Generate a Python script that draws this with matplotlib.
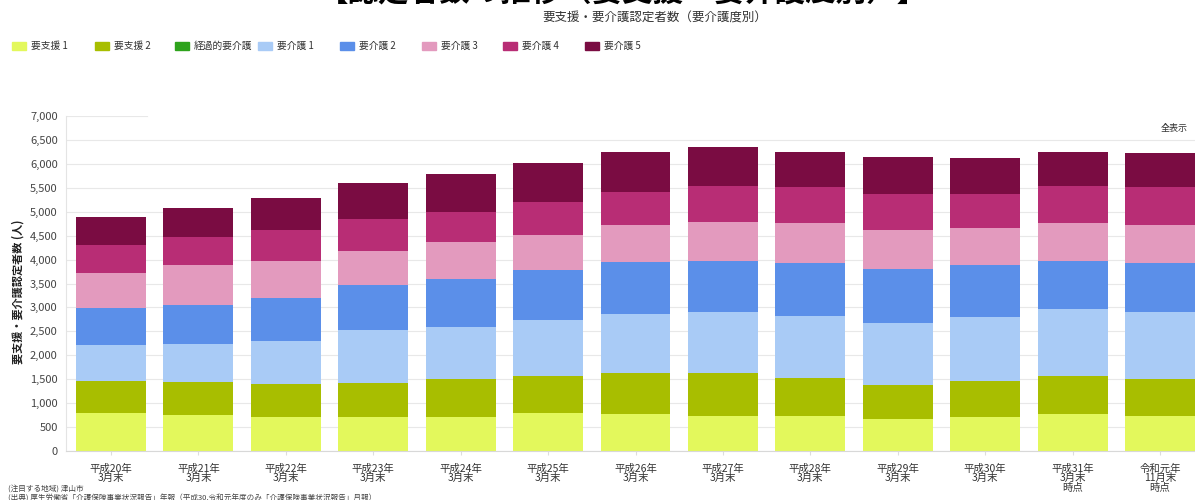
import numpy as np
import matplotlib.pyplot as plt

plt.rcParams['font.family'] = ['Noto Sans CJK JP', 'DejaVu Sans']

# 時点
labels = ["平成20年\n3月末", "平成21年\n3月末", "平成22年\n3月末", "平成23年\n3月末",
          "平成24年\n3月末", "平成25年\n3月末", "平成26年\n3月末", "平成27年\n3月末",
          "平成28年\n3月末", "平成29年\n3月末", "平成30年\n3月末", "平成31年\n3月末\n時点",
          "令和元年\n11月末\n時点"]

# 要介護度別の認定者数（人）
shien1 = [788, 746, 704, 718, 718, 788, 767, 739, 739, 662, 704, 767, 739]
shien2 = [683, 704, 697, 711, 781, 774, 858, 886, 794, 711, 766, 795, 760]
keika = [0, 0, 0, 0, 0, 0, 0, 0, 0, 0, 0, 0, 0]
kaigo1 = [747, 795, 906, 1108, 1094, 1171, 1233, 1281, 1290, 1303, 1325, 1407, 1401]
kaigo2 = [760, 809, 899, 934, 997, 1052, 1094, 1074, 1102, 1123, 1094, 1004, 1038]
kaigo3 = [732, 830, 767, 718, 780, 732, 780, 802, 836, 829, 774, 795, 788]
kaigo4 = [586, 593, 641, 656, 634, 683, 690, 765, 753, 746, 711, 779, 794]
kaigo5 = [585, 593, 676, 752, 794, 816, 836, 803, 724, 774, 746, 711, 697]

series = ["要支援 1", "要支援 2", "経過的要介護", "要介護 1", "要介護 2", "要介護 3", "要介護 4", "要介護 5"]
colors = ["#e3f85c", "#a8be00", "#2ea31c", "#a9cbf6", "#5b8fe9", "#e39abe", "#b82d75", "#7a0c42"]
data = [shien1, shien2, keika, kaigo1, kaigo2, kaigo3, kaigo4, kaigo5]

fig = plt.figure(figsize=(11.95, 5.0), dpi=100)
W, H = 1195, 500
ax = fig.add_axes([66 / W, 1 - 451 / H, (1195 - 66) / W, (451 - 116) / H])

x = np.arange(len(labels))
bottom = np.zeros(len(labels))
for name, vals, c in zip(series, data, colors):
    ax.bar(x, vals, width=0.8, bottom=bottom, color=c, linewidth=0, label=name)
    bottom += np.array(vals)

ax.set_xlim(-0.515, 12.4)
ax.set_ylim(0, 7000)
ax.set_yticks(np.arange(0, 7001, 500))
ax.set_yticklabels([f"{v:,}" for v in range(0, 7001, 500)], fontsize=8, color="#444444")
ax.set_xticks(x)
ax.set_xticklabels(labels, fontsize=7.5, color="#333333", linespacing=0.95)
ax.tick_params(axis='x', length=3, color="#dddddd", pad=6)
ax.tick_params(axis='y', length=0, pad=6)

ax.set_axisbelow(True)
ax.yaxis.grid(True, color="#e8e8e8", linewidth=0.8)
ax.get_ygridlines()[-1].set_visible(False)
ax.axhline(7000, xmin=0, xmax=(147 - 66) / (1195 - 66), color="#e8e8e8", linewidth=0.8)
for s in ["top", "right"]:
    ax.spines[s].set_visible(False)
ax.spines["left"].set_color("#e4e4e4")
ax.spines["bottom"].set_color("#d8d8d8")

fig.text(18 / W, 1 - 292 / H, "要支援・要介護認定者数 (人)", rotation=90, ha='center', va='center',
         fontsize=8, color="#222222", fontweight='bold')

# 凡例
leg_x = [12, 95, 175, 258, 340, 422, 503, 585]
for lx, name, c in zip(leg_x, series, colors):
    fig.patches.append(plt.Rectangle((lx / W, 1 - 50 / H), 14 / W, 8 / H, color=c,
                                     transform=fig.transFigure, figure=fig))
    fig.text((lx + 19) / W, 1 - 46 / H, name, fontsize=7, color="#333333", va='center')

# 上部の見出し（元画像でも上端で切れている）
fig.text(623 / W, 1 + 9 / H, "【認定者数の推移（要支援・要介護度別）】", ha='center', va='center',
         fontsize=22, fontweight='bold', color="black")
fig.text(655 / W, 1 - 18 / H, "要支援・要介護認定者数（要介護度別）", ha='center', va='center',
         fontsize=9, color="#333333")
fig.text(1188 / W, 1 - 128 / H, "全表示", ha='right', va='center', fontsize=6.5, color="#333333")

fig.text(8 / W, 1 - 489 / H, "(注目する地域) 津山市", fontsize=5.5, color="#444444", va='center')
fig.text(8 / W, 1 - 499 / H, "(出典) 厚生労働省「介護保険事業状況報告」年報（平成30,令和元年度のみ「介護保険事業状況報告」月報）",
         fontsize=5.5, color="#444444", va='center')

fig.savefig("out.png", dpi=100)
